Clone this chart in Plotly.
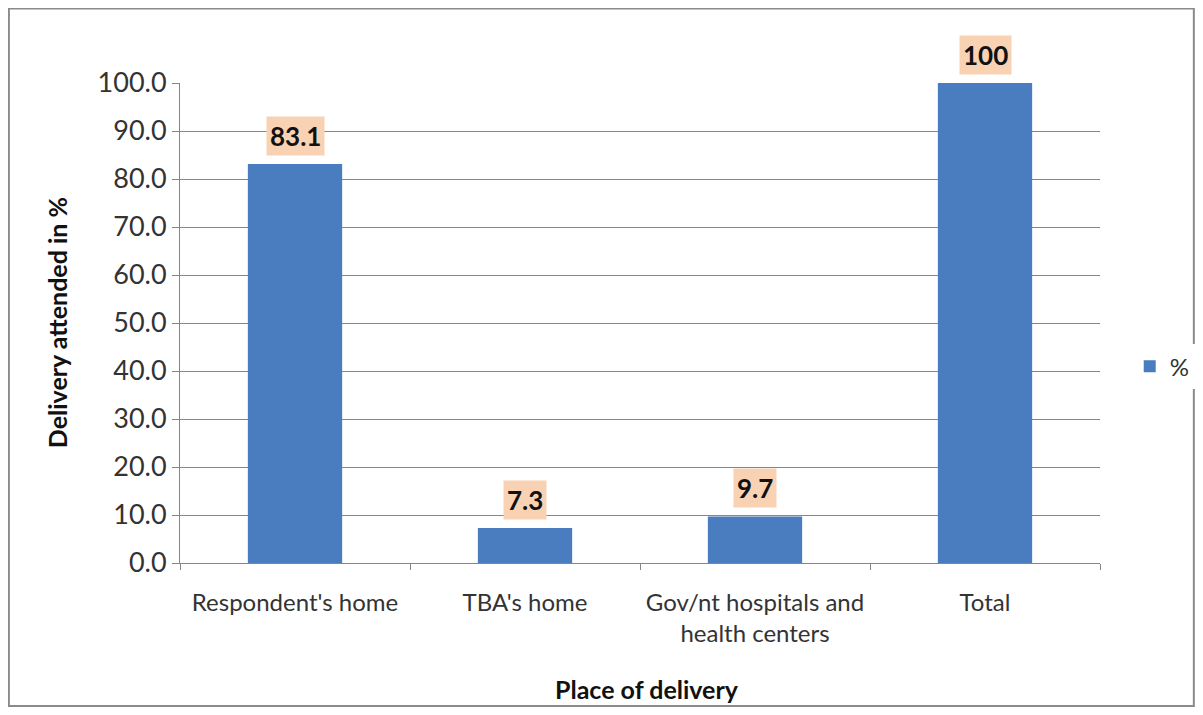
import plotly.graph_objects as go

categories = ["Respondent's home", "TBA's home", "Gov/nt hospitals and<br>health centers", "Total"]
values = [83.1, 7.3, 9.7, 100]
value_labels = ["83.1", "7.3", "9.7", "100"]
series_name = "%"
x_title = "Place of delivery"
y_title = "Delivery attended in %"

FONT = "Lato, Open Sans, sans-serif"

fig = go.Figure()
fig.add_trace(go.Bar(
    x=categories, y=values, name=series_name,
    marker=dict(color="#4A7DC0", line=dict(width=0)),
    width=0.41, showlegend=True,
))

for c, v, t in zip(categories, values, value_labels):
    fig.add_annotation(
        x=c, y=v, text="<b>%s</b>" % t, showarrow=False, yshift=28,
        font=dict(family=FONT, size=26, color="#111111"),
        bgcolor="#F9D2B3", borderpad=3,
    )

# axis titles
fig.add_annotation(xref="paper", yref="paper", x=0.508, y=-0.298,
                   text="<b>%s</b>" % x_title, showarrow=False,
                   font=dict(family=FONT, size=25, color="#111111"))
fig.add_annotation(xref="paper", yref="paper", x=-0.152, y=0.5,
                   text="<b>%s</b>" % y_title, showarrow=False, textangle=-90,
                   font=dict(family=FONT, size=25, color="#111111"))

# outer chart border
fig.add_shape(type="rect", xref="paper", yref="paper",
              x0=-0.186, x1=1.102, y0=-0.298, y1=1.155,
              line=dict(color="#8A8A8A", width=2), layer="below")

fig.update_layout(
    width=1187, height=699,
    margin=dict(l=172, r=95, t=75, b=144, autoexpand=False),
    paper_bgcolor="white", plot_bgcolor="white",
    bargap=0.6,
    font=dict(family=FONT, size=24, color="#333333"),
    legend=dict(xref="container", yref="container", x=0.945, y=0.487,
                xanchor="left", yanchor="middle",
                font=dict(size=24, color="#333333"), itemwidth=30),
    xaxis=dict(
        automargin=False, tickangle=0, ticklabelstandoff=18,
        showline=True, linecolor="#868686", linewidth=1,
        ticks="outside", tickson="boundaries", ticklen=6, tickcolor="#868686",
        tickfont=dict(size=24, color="#333333"),
    ),
    yaxis=dict(
        automargin=False,
        range=[0, 100], dtick=10, tickformat=".1f",
        showline=True, linecolor="#868686", linewidth=1,
        showgrid=True, gridcolor="#868686", gridwidth=1,
        ticks="outside", ticklen=7, tickcolor="#868686",
        tickfont=dict(size=27, color="#333333"),
        zeroline=False,
    ),
)

fig.write_html("out.html")
